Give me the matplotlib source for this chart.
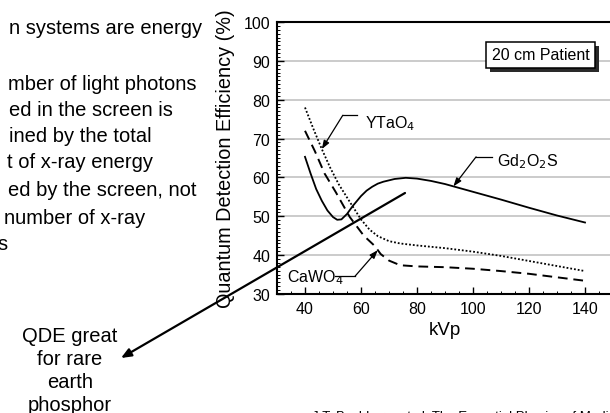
import numpy as np
import matplotlib
matplotlib.use("Agg")
import matplotlib.pyplot as plt
from matplotlib import font_manager
from matplotlib.ticker import MultipleLocator
import matplotlib.patheffects as pe

plt.rcParams['font.family'] = ['Liberation Sans', 'DejaVu Sans']

# narrow face for tick numbers, if present
try:
    font_manager.findfont('Liberation Sans Narrow', fallback_to_default=False)
    tick_font = 'Liberation Sans Narrow'
except Exception:
    tick_font = 'Liberation Sans'

# QDE curves (20 cm patient)
kvp_gd = [40, 42, 44, 46, 48, 50, 51.5, 53, 55, 57, 60, 62, 64, 66, 68, 72, 76, 80, 85, 90, 95, 100, 110, 120, 130, 140]
qde_gd = [65.3, 61, 57, 54, 51.5, 49.8, 49.1, 49.2, 50.6, 52.6, 55.2, 56.6, 57.6, 58.4, 58.9, 59.6, 59.9, 59.7, 59.1, 58.3, 57.3, 56.3, 54.3, 52.2, 50.2, 48.4]

kvp_ca = [40, 43.5, 47, 51, 56, 61, 65, 67, 70, 74, 80, 90, 100, 110, 120, 130, 140]
qde_ca = [72.0, 66.8, 61, 56.2, 49.8, 45, 42.3, 40.3, 38.6, 37.4, 37.1, 36.9, 36.5, 35.9, 35.2, 34.3, 33.4]

kvp_yt = [40, 43, 46, 49, 52, 56, 60, 63, 66, 70, 74, 80, 90, 100, 110, 120, 130, 140]
qde_yt = [78, 72.5, 67.3, 62.5, 58.3, 53.7, 49.2, 46.6, 44.9, 43.6, 43, 42.5, 41.8, 40.9, 39.8, 38.5, 37.2, 35.9]

x_ticks = [40, 60, 80, 100, 120, 140]
y_ticks = [30, 40, 50, 60, 70, 80, 90, 100]

body_lines = ["n systems are energy", "mber of light photons", "ed in the screen is",
              "ined by the total", "t of x-ray energy", "ed by the screen, not",
              "number of x-ray", "s"]
body_x = [9, 8, 9, 9, 7, 8, 4, -3]
body_y = [28, 85, 111, 137, 163, 191, 219, 245]

note_lines = ["QDE great", "for rare", "earth", "phosphor"]
note_y = [336, 360, 383, 406]

W, H = 610, 414
fig = plt.figure(figsize=(W / 100, H / 100), dpi=100)
ax = fig.add_axes([277 / W, 119 / H, 336 / W, 272 / H])

ax.plot(kvp_gd, qde_gd, color='black', lw=1.3, zorder=3)
ax.plot(kvp_ca, qde_ca, color='black', lw=1.4, ls=(0, (5, 3)), zorder=3)
ax.plot(kvp_yt, qde_yt, color='black', lw=1.3, ls=(0, (1, 1.1)), zorder=3)

ax.set_xlim(30, 150)
ax.set_ylim(30, 100)
ax.set_xticks(x_ticks)
ax.set_yticks(y_ticks)
ax.xaxis.set_minor_locator(MultipleLocator(5))
ax.yaxis.set_minor_locator(MultipleLocator(1))
ax.tick_params(which='both', direction='in', labelsize=11.5, pad=5)
ax.tick_params(which='major', length=5, width=1)
ax.tick_params(which='minor', length=2.5, width=0.7)
for lab in ax.get_xticklabels() + ax.get_yticklabels():
    lab.set_fontfamily(tick_font)
ax.grid(axis='y', which='major', color='#bdbdbd', lw=1.1, zorder=0)
for s in ax.spines.values():
    s.set_linewidth(1.5)

ax.set_xlabel('kVp', fontsize=13.5, labelpad=4)
ax.set_ylabel('Quantum Detection Efficiency (%)', fontsize=14.3, labelpad=6)

# curve labels with leader lines
lead = dict(color='black', lw=0.9)
arr = dict(arrowstyle='-|>,head_length=0.5,head_width=0.18', color='black', lw=0.9,
           shrinkA=0, shrinkB=0)

ax.text(61.6, 74.0, 'YTaO$_4$', fontsize=11.5, ha='left', va='center')
ax.plot([58.4, 53.5], [76.0, 76.0], **lead)
ax.annotate('', xy=(46, np.interp(46, kvp_yt, qde_yt)), xytext=(53.5, 76.0), arrowprops=arr)

ax.text(108.4, 64.2, 'Gd$_2$O$_2$S', fontsize=11.5, ha='left', va='center')
ax.plot([106.7, 101.1], [65.3, 65.3], **lead)
ax.annotate('', xy=(93, np.interp(93, kvp_gd, qde_gd)), xytext=(101.1, 65.3), arrowprops=arr)

ax.text(33.6, 34.4, 'CaWO$_4$', fontsize=11.5, ha='left', va='center')
ax.plot([50.7, 57.9], [34.6, 34.6], **lead)
ax.annotate('', xy=(66, np.interp(66, kvp_ca, qde_ca)), xytext=(57.9, 34.6), arrowprops=arr)

box = ax.text(124.2, 91.6, '20 cm Patient', fontsize=11.5, ha='center', va='center', zorder=5,
              bbox=dict(boxstyle='square,pad=0.35', fc='white', ec='black', lw=1.1))
box.get_bbox_patch().set_path_effects([
    pe.SimplePatchShadow(offset=(3, -3), shadow_rgbFace='#2a2a2a', alpha=1.0), pe.Normal()])

# slide text around the chart
for t, x, y in zip(body_lines, body_x, body_y):
    fig.text(x / W, 1 - y / H, t, fontsize=14.5, ha='left', va='center')
for t, y in zip(note_lines, note_y):
    fig.text(70 / W, 1 - y / H, t, fontsize=14.5, ha='center', va='center')

fig.text(312 / W, 1 - 420.5 / H, 'J.T. Bushberg, et al. The Essential Physics of Medical Imaging',
         fontsize=9.5, ha='left', va='baseline')

fig.add_artist(matplotlib.patches.FancyArrowPatch(
    (405 / W, 1 - 194 / H), (121 / W, 1 - 359 / H), transform=fig.transFigure,
    arrowstyle='-|>,head_length=6,head_width=2.5', color='black', lw=1.6,
    shrinkA=0, shrinkB=0, zorder=10))

fig.savefig('out.png', dpi=100)
